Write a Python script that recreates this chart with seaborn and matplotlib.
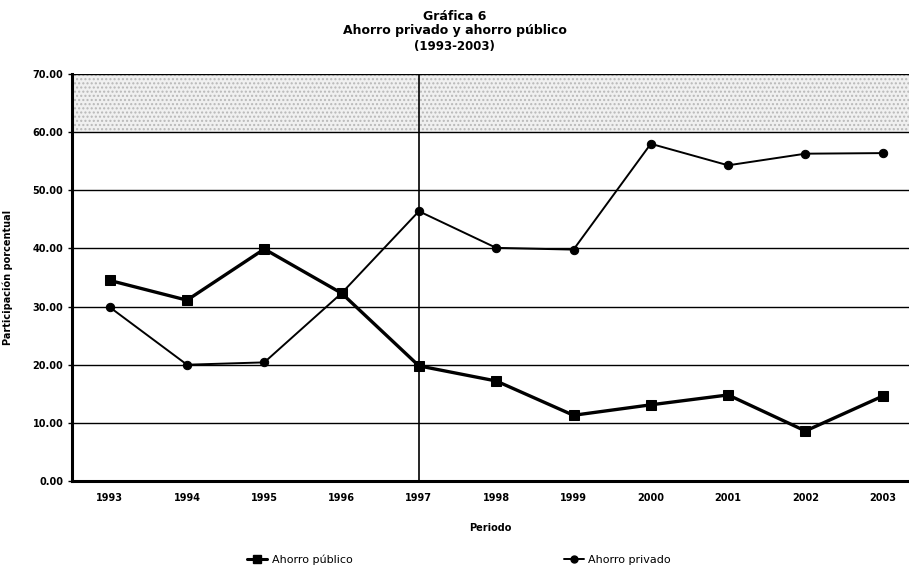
import matplotlib
matplotlib.use("Agg")
import matplotlib.pyplot as plt
import seaborn as sns
import pandas as pd
from matplotlib.lines import Line2D

# values (percent)
years = [1993, 1994, 1995, 1996, 1997, 1998, 1999, 2000, 2001, 2002, 2003]
ahorro_publico = [34.5, 31.1, 39.9, 32.3, 19.8, 17.2, 11.3, 13.1, 14.8, 8.6, 14.6]
ahorro_privado = [29.9, 20.0, 20.4, 32.3, 46.4, 40.1, 39.8, 58.0, 54.3, 56.3, 56.4]
y_ticks = [0, 10, 20, 30, 40, 50, 60, 70]

df = pd.DataFrame({"year": years, "publico": ahorro_publico, "privado": ahorro_privado})

sns.set_theme(style="white")
plt.rcParams['font.family'] = ['DejaVu Sans']
plt.rcParams['text.color'] = 'black'
plt.rcParams['axes.labelcolor'] = 'black'
plt.rcParams['xtick.color'] = 'black'
plt.rcParams['ytick.color'] = 'black'

fig = plt.figure(figsize=(9.09, 5.83), dpi=100)
ax = fig.add_axes([0.079, 0.175, 0.921, 0.698])

# stippled band at the top of the plot
ax.axhspan(60, 70, facecolor='#f0f0f0', edgecolor='#b8b8b8', hatch='....', lw=0, zorder=0)

for v in y_ticks:
    ax.axhline(v, color='black', lw=1.0, zorder=1)
ax.axvline(1997, color='black', lw=1.2, zorder=1)

sns.lineplot(data=df, x="year", y="publico", ax=ax, color='black', lw=2.4,
             marker='s', markersize=7, markeredgecolor='black', zorder=3)
sns.lineplot(data=df, x="year", y="privado", ax=ax, color='black', lw=1.4,
             marker='o', markersize=6, markeredgecolor='black', zorder=3)

ax.set_xlim(1992.51, 2003.34)
ax.set_ylim(0, 70)
ax.set_yticks(y_ticks)
ax.set_yticklabels([f"{v:.2f}" for v in y_ticks], fontsize=7, fontweight='bold')
ax.set_xticks(years)
ax.set_xticklabels([str(y) for y in years], fontsize=7, fontweight='bold')
ax.tick_params(axis='y', length=3, width=1, color='black', left=True, pad=3)
ax.tick_params(axis='x', length=0, pad=9)

for side in ['left', 'bottom']:
    ax.spines[side].set_visible(True)
    ax.spines[side].set_linewidth(2.2)
    ax.spines[side].set_color('black')
for side in ['top', 'right']:
    ax.spines[side].set_visible(False)

ax.set_xlabel("Periodo", fontsize=7, fontweight='bold', labelpad=14)
ax.set_ylabel("Participación porcentual", fontsize=7, fontweight='bold', labelpad=14)

fig.text(0.5, 0.982, "Gráfica 6", ha='center', va='top', fontsize=9, fontweight='bold')
fig.text(0.5, 0.958, "Ahorro privado y ahorro público", ha='center', va='top', fontsize=9, fontweight='bold')
fig.text(0.5, 0.932, "(1993-2003)", ha='center', va='top', fontsize=8.5, fontweight='bold')

h1 = Line2D([], [], color='black', lw=2.2, marker='s', markersize=6)
h2 = Line2D([], [], color='black', lw=1.4, marker='o', markersize=5)
fig.legend([h1, h2], ["Ahorro público", "Ahorro privado"], loc='center',
           bbox_to_anchor=(0.505, 0.04), ncol=2, frameon=False, fontsize=8,
           columnspacing=19, handlelength=1.8, handletextpad=0.4)

fig.savefig("out.png", dpi=100)
